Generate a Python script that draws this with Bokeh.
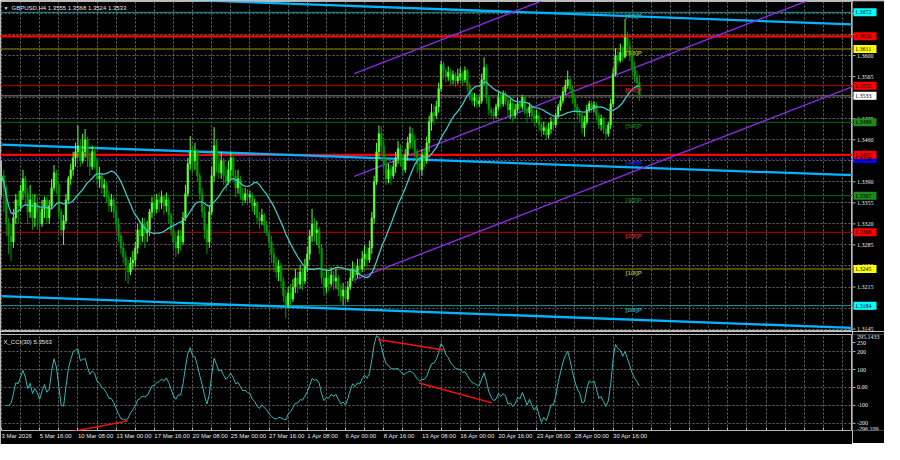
import numpy as np
import pandas as pd
from bokeh.plotting import figure
from bokeh.layouts import column, row
from bokeh.models import (Range1d, FixedTicker, Label, ColumnDataSource, Grid, LinearAxis)
from bokeh.embed import file_html
from bokeh.resources import INLINE

FONT = "Liberation Sans"

# ---------------- data (GBPUSD H4) ----------------
first_open = 1.3390
close = [
    1.3400, 1.3380, 1.3320, 1.3300, 1.3290, 1.3330, 1.3360, 1.3350, 1.3375, 1.3395,
    1.3370, 1.3340, 1.3360, 1.3330, 1.3355, 1.3340, 1.3320, 1.3345, 1.3360, 1.3330,
    1.3350, 1.3380, 1.3405, 1.3385, 1.3340, 1.3310, 1.3325, 1.3360, 1.3395, 1.3410,
    1.3430, 1.3440, 1.3450, 1.3425, 1.3440, 1.3460, 1.3430, 1.3415, 1.3440, 1.3425,
    1.3395, 1.3400, 1.3380, 1.3385, 1.3365, 1.3350, 1.3360, 1.3340, 1.3320, 1.3300,
    1.3280, 1.3265, 1.3250, 1.3240, 1.3255, 1.3260, 1.3280, 1.3310, 1.3300, 1.3320,
    1.3305, 1.3310, 1.3340, 1.3355, 1.3345, 1.3360, 1.3355, 1.3365, 1.3350, 1.3360,
    1.3335, 1.3310, 1.3290, 1.3280, 1.3300, 1.3290, 1.3330, 1.3370, 1.3420, 1.3440,
    1.3425, 1.3440, 1.3400, 1.3370, 1.3340, 1.3310, 1.3290, 1.3340, 1.3400, 1.3450,
    1.3420, 1.3405, 1.3425, 1.3400, 1.3390, 1.3410, 1.3430, 1.3400, 1.3380, 1.3395,
    1.3370, 1.3360, 1.3370, 1.3365, 1.3368, 1.3350, 1.3355, 1.3330, 1.3325, 1.3335,
    1.3318, 1.3305, 1.3290, 1.3270, 1.3255, 1.3240, 1.3250, 1.3225, 1.3200, 1.3185,
    1.3205, 1.3195, 1.3215, 1.3230, 1.3220, 1.3240, 1.3225, 1.3250, 1.3270, 1.3300,
    1.3320, 1.3305, 1.3310, 1.3280, 1.3230, 1.3215, 1.3230, 1.3220, 1.3235, 1.3225,
    1.3230, 1.3210, 1.3200, 1.3210, 1.3195, 1.3215, 1.3230, 1.3245, 1.3235, 1.3250,
    1.3245, 1.3262, 1.3270, 1.3260, 1.3280, 1.3330, 1.3390, 1.3440, 1.3470, 1.3450,
    1.3420, 1.3395, 1.3410, 1.3400, 1.3415, 1.3430, 1.3445, 1.3425, 1.3410, 1.3435,
    1.3455, 1.3470, 1.3460, 1.3440, 1.3420, 1.3410, 1.3435, 1.3425, 1.3455, 1.3490,
    1.3505, 1.3500, 1.3515, 1.3545, 1.3585, 1.3575, 1.3565, 1.3572, 1.3560, 1.3568,
    1.3558, 1.3565, 1.3570, 1.3560, 1.3575, 1.3550, 1.3535, 1.3525, 1.3530, 1.3520,
    1.3525, 1.3560, 1.3580, 1.3530, 1.3510, 1.3505, 1.3500, 1.3515, 1.3530, 1.3520,
    1.3535, 1.3525, 1.3510, 1.3520, 1.3500, 1.3510, 1.3520, 1.3515, 1.3530, 1.3510,
    1.3505, 1.3515, 1.3500, 1.3495, 1.3500, 1.3485, 1.3475, 1.3480, 1.3468, 1.3478,
    1.3490, 1.3485, 1.3500, 1.3515, 1.3525, 1.3540, 1.3550, 1.3560, 1.3545, 1.3530,
    1.3515, 1.3505, 1.3500, 1.3480, 1.3490, 1.3510, 1.3520, 1.3512, 1.3518, 1.3500,
    1.3485, 1.3495, 1.3478, 1.3470, 1.3485, 1.3520, 1.3570, 1.3600, 1.3592, 1.3605,
    1.3598, 1.3630, 1.3615, 1.3600, 1.3580, 1.3565, 1.3555, 1.3533,
]
high = [
    1.3425, 1.3410, 1.3385, 1.3330, 1.3320, 1.3345, 1.3370, 1.3375, 1.3385, 1.3410,
    1.3400, 1.3380, 1.3385, 1.3370, 1.3370, 1.3365, 1.3350, 1.3360, 1.3365, 1.3365,
    1.3360, 1.3395, 1.3418, 1.3410, 1.3390, 1.3345, 1.3335, 1.3370, 1.3400, 1.3420,
    1.3440, 1.3455, 1.3484, 1.3460, 1.3470, 1.3478, 1.3465, 1.3440, 1.3450, 1.3450,
    1.3430, 1.3415, 1.3405, 1.3395, 1.3390, 1.3375, 1.3370, 1.3365, 1.3350, 1.3330,
    1.3305, 1.3290, 1.3275, 1.3260, 1.3265, 1.3275, 1.3290, 1.3320, 1.3325, 1.3330,
    1.3330, 1.3325, 1.3345, 1.3365, 1.3368, 1.3370, 1.3372, 1.3375, 1.3368, 1.3372,
    1.3365, 1.3340, 1.3320, 1.3305, 1.3310, 1.3310, 1.3340, 1.3385, 1.3430, 1.3466,
    1.3450, 1.3455, 1.3445, 1.3405, 1.3380, 1.3350, 1.3320, 1.3350, 1.3415, 1.3481,
    1.3460, 1.3435, 1.3440, 1.3430, 1.3415, 1.3425, 1.3440, 1.3435, 1.3410, 1.3410,
    1.3400, 1.3380, 1.3380, 1.3378, 1.3375, 1.3372, 1.3362, 1.3358, 1.3340, 1.3345,
    1.3338, 1.3325, 1.3310, 1.3300, 1.3280, 1.3265, 1.3260, 1.3255, 1.3232, 1.3210,
    1.3215, 1.3220, 1.3228, 1.3245, 1.3240, 1.3252, 1.3245, 1.3262, 1.3282, 1.3310,
    1.3345, 1.3330, 1.3325, 1.3315, 1.3285, 1.3240, 1.3245, 1.3240, 1.3248, 1.3242,
    1.3245, 1.3235, 1.3220, 1.3222, 1.3215, 1.3225, 1.3245, 1.3258, 1.3255, 1.3262,
    1.3262, 1.3275, 1.3285, 1.3282, 1.3292, 1.3340, 1.3400, 1.3455, 1.3484, 1.3482,
    1.3460, 1.3430, 1.3420, 1.3418, 1.3425, 1.3440, 1.3458, 1.3452, 1.3435, 1.3445,
    1.3465, 1.3482, 1.3480, 1.3468, 1.3445, 1.3430, 1.3445, 1.3445, 1.3465, 1.3500,
    1.3520, 1.3518, 1.3525, 1.3555, 1.3592, 1.3590, 1.3580, 1.3582, 1.3578, 1.3575,
    1.3572, 1.3578, 1.3580, 1.3574, 1.3582, 1.3578, 1.3555, 1.3540, 1.3538, 1.3535,
    1.3532, 1.3570, 1.3597, 1.3585, 1.3535, 1.3515, 1.3512, 1.3520, 1.3540, 1.3538,
    1.3542, 1.3540, 1.3530, 1.3528, 1.3525, 1.3520, 1.3530, 1.3525, 1.3535, 1.3532,
    1.3515, 1.3522, 1.3518, 1.3510, 1.3510, 1.3505, 1.3490, 1.3490, 1.3485, 1.3488,
    1.3498, 1.3495, 1.3505, 1.3520, 1.3532, 1.3548, 1.3560, 1.3575, 1.3565, 1.3550,
    1.3535, 1.3520, 1.3512, 1.3505, 1.3500, 1.3518, 1.3525, 1.3525, 1.3524, 1.3522,
    1.3505, 1.3502, 1.3498, 1.3485, 1.3490, 1.3528, 1.3580, 1.3612, 1.3608, 1.3620,
    1.3615, 1.3661, 1.3640, 1.3625, 1.3605, 1.3590, 1.3575, 1.3568,
]
low = [
    1.3365, 1.3340, 1.3300, 1.3270, 1.3258, 1.3280, 1.3320, 1.3320, 1.3340, 1.3360,
    1.3350, 1.3320, 1.3330, 1.3310, 1.3315, 1.3310, 1.3305, 1.3315, 1.3330, 1.3320,
    1.3320, 1.3345, 1.3375, 1.3370, 1.3330, 1.3300, 1.3285, 1.3320, 1.3355, 1.3385,
    1.3400, 1.3415, 1.3430, 1.3415, 1.3420, 1.3430, 1.3415, 1.3400, 1.3410, 1.3412,
    1.3385, 1.3380, 1.3370, 1.3365, 1.3355, 1.3340, 1.3340, 1.3330, 1.3310, 1.3290,
    1.3270, 1.3255, 1.3225, 1.3220, 1.3235, 1.3245, 1.3250, 1.3270, 1.3285, 1.3290,
    1.3280, 1.3290, 1.3300, 1.3330, 1.3335, 1.3338, 1.3340, 1.3345, 1.3335, 1.3340,
    1.3320, 1.3300, 1.3275, 1.3265, 1.3270, 1.3275, 1.3285, 1.3325, 1.3365, 1.3410,
    1.3405, 1.3410, 1.3390, 1.3360, 1.3330, 1.3295, 1.3270, 1.3280, 1.3335, 1.3390,
    1.3405, 1.3395, 1.3395, 1.3385, 1.3375, 1.3385, 1.3395, 1.3390, 1.3365, 1.3370,
    1.3360, 1.3350, 1.3355, 1.3352, 1.3355, 1.3340, 1.3335, 1.3320, 1.3312, 1.3318,
    1.3305, 1.3300, 1.3280, 1.3255, 1.3240, 1.3230, 1.3225, 1.3215, 1.3190, 1.3163,
    1.3180, 1.3185, 1.3190, 1.3205, 1.3205, 1.3212, 1.3210, 1.3220, 1.3240, 1.3260,
    1.3290, 1.3290, 1.3285, 1.3270, 1.3220, 1.3200, 1.3205, 1.3208, 1.3215, 1.3210,
    1.3212, 1.3200, 1.3190, 1.3185, 1.3182, 1.3190, 1.3210, 1.3225, 1.3222, 1.3230,
    1.3232, 1.3240, 1.3250, 1.3248, 1.3255, 1.3270, 1.3320, 1.3385, 1.3430, 1.3435,
    1.3405, 1.3385, 1.3388, 1.3385, 1.3395, 1.3405, 1.3420, 1.3415, 1.3400, 1.3405,
    1.3425, 1.3445, 1.3445, 1.3430, 1.3405, 1.3395, 1.3400, 1.3415, 1.3420, 1.3440,
    1.3475, 1.3485, 1.3495, 1.3505, 1.3540, 1.3560, 1.3555, 1.3558, 1.3550, 1.3552,
    1.3548, 1.3552, 1.3558, 1.3550, 1.3555, 1.3540, 1.3525, 1.3518, 1.3515, 1.3512,
    1.3515, 1.3520, 1.3550, 1.3520, 1.3500, 1.3495, 1.3490, 1.3495, 1.3510, 1.3512,
    1.3515, 1.3518, 1.3500, 1.3495, 1.3490, 1.3495, 1.3505, 1.3505, 1.3510, 1.3502,
    1.3490, 1.3498, 1.3490, 1.3482, 1.3488, 1.3475, 1.3465, 1.3468, 1.3460, 1.3462,
    1.3470, 1.3475, 1.3480, 1.3495, 1.3508, 1.3520, 1.3535, 1.3545, 1.3538, 1.3520,
    1.3505, 1.3495, 1.3490, 1.3470, 1.3465, 1.3485, 1.3505, 1.3505, 1.3505, 1.3492,
    1.3478, 1.3475, 1.3470, 1.3462, 1.3465, 1.3478, 1.3515, 1.3565, 1.3585, 1.3588,
    1.3590, 1.3595, 1.3605, 1.3590, 1.3570, 1.3555, 1.3545, 1.3524,
]
assert len(close) == len(high) == len(low) == 268

date_ticks = [0, 16, 32, 48, 64, 80, 96, 112, 128, 144, 160, 176, 192, 208, 224, 240, 256]
date_labels = ["3 Mar 2026", "5 Mar 16:00", "10 Mar 08:00", "13 Mar 00:00", "17 Mar 16:00",
               "20 Mar 08:00", "25 Mar 00:00", "27 Mar 16:00", "1 Apr 08:00", "6 Apr 00:00",
               "8 Apr 16:00", "13 Apr 08:00", "16 Apr 00:00", "20 Apr 16:00", "23 Apr 08:00",
               "28 Apr 00:00", "30 Apr 16:00"]
price_ticks = [1.3145, 1.3180, 1.3215, 1.3250, 1.3285, 1.3320, 1.3355, 1.3390, 1.3425,
               1.3460, 1.3495, 1.3530, 1.3565, 1.3600, 1.3635, 1.3670]

# Murray levels
murray_price = [1.3672, 1.3611, 1.3550, 1.3489, 1.3428, 1.3367, 1.3306, 1.3245, 1.3184]
murray_name = ["[8/8]P", "[7/8]P", "[6/8]P", "[5/8]P", "[4/8]P", "[3/8]P", "[2/8]P", "[1/8]P", "[0/8]P"]
murray_line = ["#189a9a", "#9a9400", "#c00000", "#0d6a0d", "#2a2ad0", "#0d6a0d", "#c00000", "#9a9400", "#189a9a"]
murray_text = ["#22a8a8", "#b8a22a", "#d02020", "#1f6e1f", "#2a2ad0", "#1f6e1f", "#d02020", "#b8a22a", "#22a8a8"]
murray_tag = ["#00ffff", "#ffff00", "#ff0000", "#1e8a1e", "#0000ff", "#1e8a1e", "#ff0000", "#ffff00", "#00ffff"]
# extra strong resistance/support lines
red_price = [1.3632, 1.3435]

# channels (bar index, price)
cyan_x0 = [0, 0, 0]
cyan_y0 = [1.3704, 1.3452, 1.3200]
cyan_x1 = [356, 356, 356]
cyan_y1 = [1.3652, 1.3401, 1.3147]
purple_x0 = [147.7, 147.7, 147.7]
purple_y0 = [1.3570, 1.3399, 1.3227]
purple_x1 = [356, 356, 356]
purple_y1 = [1.3891, 1.3720, 1.3548]
cci_red_x0 = [20, 157.6, 174.8]
cci_red_y0 = [-270, 267, 25]
cci_red_x1 = [53, 185, 205.3]
cci_red_y1 = [-186, 209, -86]

cci_ticks = [-200, -100, 0, 100, 200, 250]
cci_tick_text = ["-200", "-100", "0.00", "100", "200", "250"]
cci_max, cci_min = 295.1433, -296.109
cci_levels = [-200, -100, 0, 100, 200]

# ---------------- derived ----------------
n = len(close)
idx = np.arange(n)
c = np.array(close)
o = np.array([first_open] + close[:-1])
h = np.maximum.reduce([np.array(high), o, c])
l = np.minimum.reduce([np.array(low), o, c])
bull = c >= o
BULL, BEAR = "#62ff3a", "#009a00"
src = ColumnDataSource(dict(
    x=idx, h=h, l=l, top=np.maximum(o, c), bot=np.minimum(o, c),
    col=[BULL if b else BEAR for b in bull],
))
ma = pd.Series(c).rolling(20, min_periods=1).mean().values
tp = pd.Series((h + l + c) / 3.0)
sma = tp.rolling(30, min_periods=3).mean()
md = tp.rolling(30, min_periods=3).apply(lambda v: np.mean(np.abs(v - v.mean())), raw=True)
cci = ((tp - sma) / (0.015 * md)).values

XR = Range1d(-0.4, 356.2)
W = 852
SW = 32
TXT = "#e6e6e6"
GRIDC = "#6a6a6a"
FRAME = "#b8b8b8"
FS = "6px"
AXH = 13


def panel(fh, yr, top, bottom=0):
    f = figure(frame_width=W, frame_height=fh, x_range=XR, y_range=yr,
               output_backend="svg", toolbar_location=None, x_axis_location=None,
               y_axis_location=None, background_fill_color="black", border_fill_color="black",
               min_border_left=0, min_border_right=0, min_border_top=top, min_border_bottom=bottom,
               outline_line_color=FRAME, outline_line_width=1)
    f.grid.visible = False
    f.add_layout(Grid(dimension=0, ticker=FixedTicker(ticks=list(range(0, 357, 8))),
                      grid_line_color=GRIDC, grid_line_dash="2 2", grid_line_width=1))
    return f


def strip(fh, yr, top, bottom=0):
    s = figure(frame_width=SW, frame_height=fh, x_range=Range1d(0, SW), y_range=yr,
               output_backend="svg", toolbar_location=None, x_axis_location=None,
               y_axis_location=None, background_fill_color="black", border_fill_color="black",
               min_border_left=0, min_border_right=0, min_border_top=top, min_border_bottom=bottom,
               outline_line_color=None)
    s.grid.visible = False
    return s


# ---------------- price panel ----------------
p = panel(330, Range1d(1.3141, 1.3690), 1)
p.add_layout(Grid(dimension=1, ticker=FixedTicker(ticks=price_ticks),
                  grid_line_color=GRIDC, grid_line_dash="2 2", grid_line_width=1))

for yv, lc in zip(murray_price, murray_line):
    if lc == "#2a2ad0":
        p.segment(x0=-1, x1=357, y0=yv, y1=yv, line_color=lc, line_width=1, line_dash="2 2")
    else:
        p.segment(x0=-1, x1=357, y0=yv, y1=yv, line_color=lc, line_width=1)
for yv in red_price:
    p.segment(x0=-1, x1=357, y0=yv, y1=yv, line_color="#ff0000", line_width=2.2)
p.segment(x0=-1, x1=357, y0=close[-1], y1=close[-1], line_color="#8a8a8a", line_width=1)

p.segment(x0=cyan_x0, y0=cyan_y0, x1=cyan_x1, y1=cyan_y1, line_color="#00b4ff", line_width=2.3)
p.segment(x0=purple_x0, y0=purple_y0, x1=purple_x1, y1=purple_y1, line_color="#8a2be2", line_width=1.4)

p.segment(x0="x", y0="h", x1="x", y1="l", source=src, line_color="col", line_width=1)
p.vbar(x="x", width=0.72, top="top", bottom="bot", source=src, fill_color="col",
       line_color="col", line_width=0.5)
p.line(idx, ma, line_color="#3cc8c8", line_width=1.3)

msrc = ColumnDataSource(dict(y=murray_price, t=murray_name, c=murray_text))
p.text(x=261.2, y="y", text="t", text_color="c", source=msrc, text_font_size=FS,
       text_baseline="top", text_align="left", y_offset=1, text_font_style="bold")

title = f"GBPUSD,H4  {o[-1]:.4f} {h[-1]:.4f} {l[-1]:.4f} {c[-1]:.4f}"
p.add_layout(Label(x=3, y=324, x_units="screen", y_units="screen", text="\u25bc",
                   text_font_size="5px", text_color=TXT, text_baseline="middle"))
p.add_layout(Label(x=11, y=324, x_units="screen", y_units="screen", text=title,
                   text_font=FONT, text_font_size=FS, text_color=TXT, text_baseline="middle"))

# right price scale strip
ps = strip(330, p.y_range, 1)
ps.segment(x0=0, x1=3, y0=price_ticks, y1=price_ticks, line_color=FRAME, line_width=1)
ps.text(x=4.5, y=price_ticks, text=[f"{v:.4f}" for v in price_ticks], text_color=TXT,
        text_font=FONT, text_font_size=FS, text_baseline="middle", text_align="left")
tag_y = murray_price + red_price + [close[-1]]
tag_c = murray_tag + ["#ff0000"] * len(red_price) + ["#ffffff"]
tsrc = ColumnDataSource(dict(y=tag_y, c=tag_c, t=[f"{v:.4f}" for v in tag_y]))
ps.rect(x=12.5, y="y", width=23, height=8, height_units="screen", fill_color="c",
        line_color=None, source=tsrc)
ps.text(x=2.5, y="y", text="t", text_color="black", source=tsrc, text_font=FONT,
        text_font_size=FS, text_baseline="middle", text_align="left")

# ---------------- CCI panel ----------------
CY = Range1d(-240, cci_max)
q = panel(96, CY, 3, AXH)
q.add_layout(Grid(dimension=1, ticker=FixedTicker(ticks=cci_levels),
                  grid_line_color=GRIDC, grid_line_dash="2 2", grid_line_width=1))
q.line(idx, cci, line_color="#2fb8b8", line_width=1)
q.segment(x0=cci_red_x0, y0=cci_red_y0, x1=cci_red_x1, y1=cci_red_y1, line_color="#ff1010", line_width=1.4)
q.add_layout(Label(x=3, y=89, x_units="screen", y_units="screen", text="X_CCI(30) 5.3563",
                   text_font=FONT, text_font_size=FS, text_color=TXT, text_baseline="middle"))
# time axis below CCI panel
xa = LinearAxis(ticker=FixedTicker(ticks=list(range(0, 357, 8))))
ovr = {t: "" for t in range(0, 357, 8)}
for t, s in zip(date_ticks, date_labels):
    ovr[t] = s
xa.major_label_overrides = ovr
xa.major_label_orientation = -1e-6
xa.axis_line_color = None
xa.major_tick_line_color = FRAME
xa.major_tick_in = 3
xa.major_tick_out = 0
xa.minor_tick_line_color = None
xa.major_label_text_color = TXT
xa.major_label_text_font = FONT
xa.major_label_text_font_size = FS
xa.major_label_standoff = 5
q.add_layout(xa, "below")

qs = strip(96, CY, 3, AXH)
qs.segment(x0=0, x1=3, y0=cci_ticks, y1=cci_ticks, line_color=FRAME, line_width=1)
qs.text(x=4.5, y=cci_ticks, text=cci_tick_text, text_color=TXT, text_font=FONT,
        text_font_size=FS, text_baseline="middle", text_align="left")
qs.text(x=4.5, y=[cci_max], text=[f"{cci_max:.4f}"], text_color=TXT, text_font=FONT,
        text_font_size=FS, text_baseline="top", text_align="left")
qs.text(x=4.5, y=[-240], text=[f"{cci_min:.3f}"], text_color=TXT, text_font=FONT,
        text_font_size=FS, text_baseline="bottom", text_align="left")

layout = column(row(p, ps, spacing=0), row(q, qs, spacing=0), spacing=0)
open("out.html", "w").write(file_html(layout, INLINE))
